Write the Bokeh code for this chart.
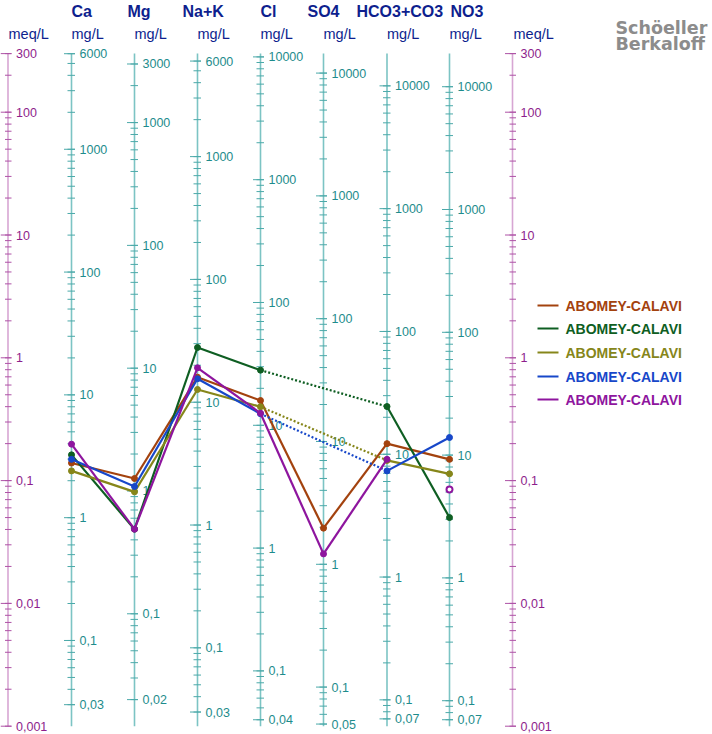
from bokeh.plotting import figure
from bokeh.models import Range1d
from bokeh.core.properties import value
from bokeh.embed import file_html
from bokeh.resources import INLINE

# ---------------- data ----------------
ions = ["Ca", "Mg", "Na+K", "Cl", "SO4", "HCO3+CO3", "NO3"]
eq_weights = [20.04, 12.15, 23.0, 35.45, 48.03, 61.02, 62.0]
ion_major_ticks = [
    [6000, 1000, 100, 10, 1, 0.1, 0.03],
    [3000, 1000, 100, 10, 1, 0.1, 0.02],
    [6000, 1000, 100, 10, 1, 0.1, 0.03],
    [10000, 1000, 100, 10, 1, 0.1, 0.04],
    [10000, 1000, 100, 10, 1, 0.1, 0.05],
    [10000, 1000, 100, 10, 1, 0.1, 0.07],
    [10000, 1000, 100, 10, 1, 0.1, 0.07],
]
meq_major_ticks = [300, 100, 10, 1, 0.1, 0.01, 0.001]

series_names = ["ABOMEY-CALAVI"] * 5
series_colors = ["#A3420E", "#0E5E22", "#86861A", "#1747C9", "#8E159E"]
# values in meq/L, order = ions ; None = not measured
brown = [0.139, 0.104, 0.695, 0.449, 0.041, 0.200, 0.149]
green = [0.162, 0.0402, 1.213, 0.793, None, 0.401, 0.050]
olive = [0.120, 0.081, 0.552, 0.399, None, 0.146, 0.1136]
blue = [0.149, 0.0895, 0.675, 0.350, None, 0.120, 0.2244]
purple = [0.198, 0.0402, 0.829, 0.354, 0.0253, 0.149, 0.0848]
series_values = [brown, green, olive, blue, purple]
# points drawn alone (hollow, not joined to the line)
series_unlinked = [[], [], [], [], [6]]

# ---------------- layout helpers ----------------
W, H = 712, 734
Y_ONE = 357.3      # picture y of 1 meq/L
K = 122.8          # pixels per decade
FONT = value("Liberation Sans")


def py2meq(py):
    return 10 ** ((Y_ONE - py) / K)


AX_X = [71, 134, 197, 260, 323, 386.5, 449]
MEQ_LEFT_X = 7.5
MEQ_RIGHT_X = 512
MEQ_LO, MEQ_HI = 0.001, 300.0

AXIS_LINE = "#7CC4C4"
AXIS_TICK = "#4BA9A9"
AXIS_TEXT = "#1E8C8C"
MEQ_LINE = "#D7A6D3"
MEQ_TICK = "#AE52A6"
MEQ_TEXT = "#8E1E8C"
HEAD = "#0E1F8E"

p = figure(width=W, height=H, x_range=Range1d(0, W),
           y_range=Range1d(py2meq(H), py2meq(0)), y_axis_type="log",
           output_backend="svg", toolbar_location=None, min_border=0,
           x_axis_location=None, y_axis_location=None)
p.grid.visible = False
p.outline_line_color = None
p.background_fill_color = "white"


def fmt(v):
    return ("%g" % v).replace(".", ",")


def minor_ticks(lo, hi):
    out = []
    for k in range(-4, 6):
        for m in range(1, 10):
            v = m * 10.0 ** k
            if lo * (1 - 1e-9) <= v <= hi * (1 + 1e-9):
                out.append(v)
    return out


def draw_axis(x, factor, majors, line_c, tick_c, text_c, mleft, mright, jleft):
    # factor: value -> meq
    lo, hi = MEQ_LO * factor, MEQ_HI * factor
    p.segment(x0=[x], y0=[MEQ_LO], x1=[x], y1=[MEQ_HI], line_color=line_c, line_width=1.6)
    mins = minor_ticks(lo, hi)
    p.segment(x0=[x - mleft] * len(mins), x1=[x + mright] * len(mins),
              y0=[v / factor for v in mins], y1=[v / factor for v in mins],
              line_color=tick_c, line_width=1)
    p.segment(x0=[x - jleft] * len(majors), x1=[x + mright] * len(majors),
              y0=[v / factor for v in majors], y1=[v / factor for v in majors],
              line_color=tick_c, line_width=1)
    p.text(x=[x + 8] * len(majors), y=[v / factor for v in majors],
           text=[fmt(v) for v in majors], text_font=FONT, text_font_size="12.5px",
           text_color=text_c, text_baseline="middle", text_align="left")


# meq axes
draw_axis(MEQ_LEFT_X, 1.0, meq_major_ticks, MEQ_LINE, MEQ_TICK, MEQ_TEXT, 3, 3.5, 7.5)
draw_axis(MEQ_RIGHT_X, 1.0, meq_major_ticks, MEQ_LINE, MEQ_TICK, MEQ_TEXT, 3, 3.5, 7.5)
# ion axes
for x, w, majors in zip(AX_X, eq_weights, ion_major_ticks):
    draw_axis(x, w, majors, AXIS_LINE, AXIS_TICK, AXIS_TEXT, 4, 3.5, 7.5)

# headers
name_x = [71, 127, 182, 260, 307, 356, 450]
p.text(x=name_x, y=[py2meq(11)] * len(ions), text=ions, text_font=FONT,
       text_font_size="16px", text_font_style="bold", text_color=HEAD,
       text_baseline="middle", text_align="left")
unit_x = [8] + AX_X + [513]
unit_t = ["meq/L"] + ["mg/L"] * len(ions) + ["meq/L"]
p.text(x=unit_x, y=[py2meq(33)] * len(unit_x), text=unit_t, text_font=FONT,
       text_font_size="14.5px", text_color=HEAD, text_baseline="middle", text_align="left")
p.text(x=[615, 615], y=[py2meq(27.5), py2meq(43.5)], text=["Schöeller", "Berkaloff"],
       text_font=value("DejaVu Sans"), text_font_size="17.5px", text_font_style="bold",
       text_color="#8C8C8C", text_baseline="middle", text_align="left")

# series
for vals, col, unl in zip(series_values, series_colors, series_unlinked):
    idx = [i for i, v in enumerate(vals) if v is not None and i not in unl]
    for a, b in zip(idx[:-1], idx[1:]):
        dash = "solid" if b == a + 1 else "2 2"
        p.line(x=[AX_X[a], AX_X[b]], y=[vals[a], vals[b]], line_color=col,
               line_width=2.2, line_dash=dash)
    p.scatter(x=[AX_X[i] for i in idx], y=[vals[i] for i in idx], marker="circle",
              size=6, fill_color=col, line_color=col, line_width=1)
    if unl:
        p.scatter(x=[AX_X[i] for i in unl], y=[vals[i] for i in unl], marker="circle",
                  size=6, fill_color="white", line_color=col, line_width=2)

# legend
leg_y = [305, 328, 352, 376, 399]
for name, col, py in zip(series_names, series_colors, leg_y):
    p.line(x=[537, 558], y=[py2meq(py)] * 2, line_color=col, line_width=2)
p.text(x=[565] * len(series_names), y=[py2meq(v) for v in leg_y], text=series_names,
       text_font=FONT, text_font_size="14px", text_font_style="bold",
       text_color=series_colors, text_baseline="middle", text_align="left")

open("out.html", "w").write(file_html(p, INLINE))
